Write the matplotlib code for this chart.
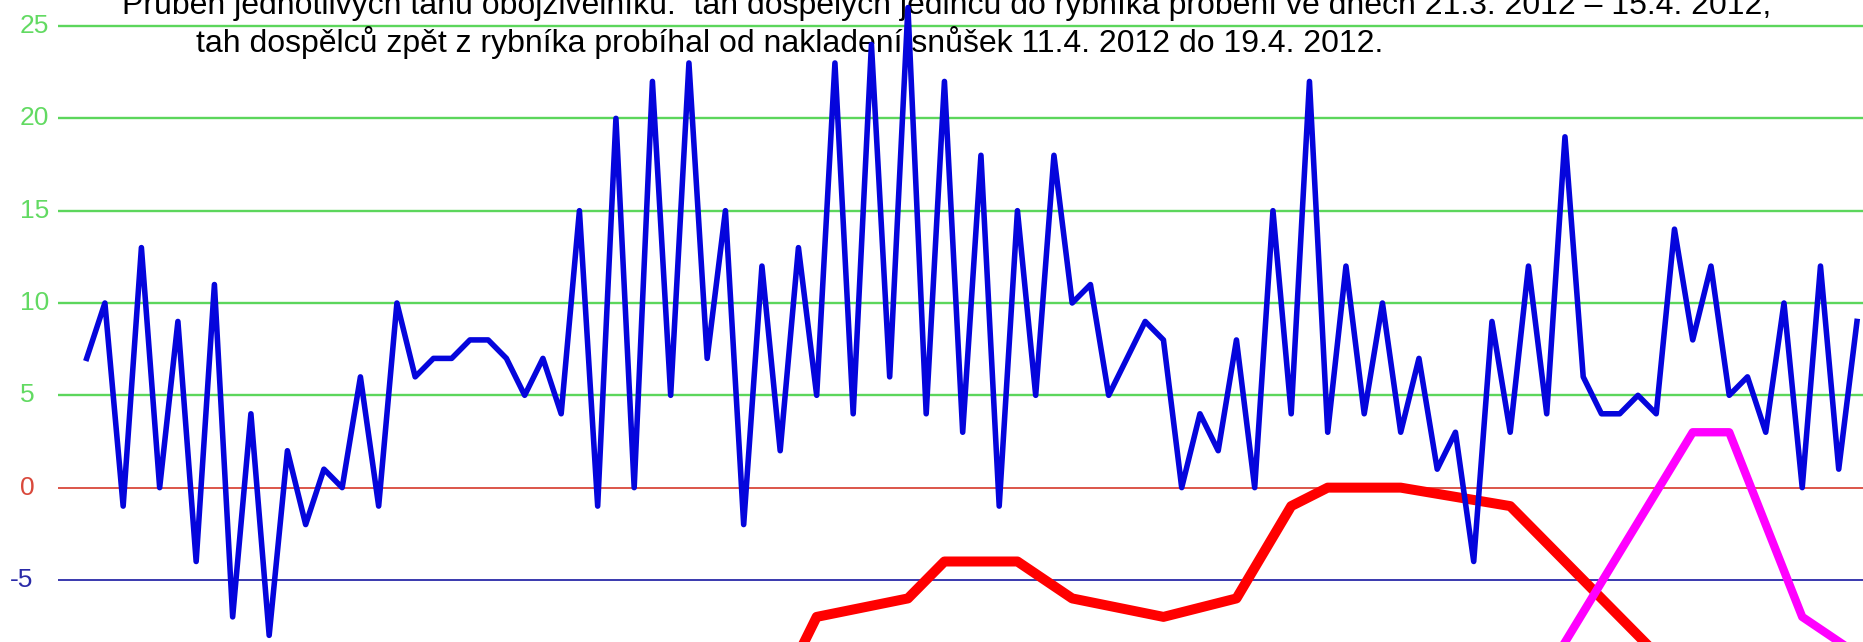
import numpy as np
import matplotlib
matplotlib.use('Agg')
import matplotlib.pyplot as plt
from matplotlib.transforms import blended_transform_factory

plt.rcParams['font.family'] = ['Liberation Sans', 'DejaVu Sans']

# ------ data ------

# blue series, one value per day
blue_vals = [7, 10, -1, 13, 0, 9, -4, 11, -7, 4,
             -8, 2, -2, 1, 0, 6, -1, 10, 6, 7,
             7, 8, 8, 7, 5, 7, 4, 15, -1, 20,
             0, 22, 5, 23, 7, 15, -2, 12, 2, 13,
             5, 23, 4, 24, 6, 26, 4, 22, 3, 18,
             -1, 15, 5, 18, 10, 11, 5, 7, 9, 8,
             0, 4, 2, 8, 0, 15, 4, 22, 3, 12,
             4, 10, 3, 7, 1, 3, -4, 9, 3, 12,
             4, 19, 6, 4, 4, 5, 4, 14, 8, 12,
             5, 6, 3, 10, 0, 12, 1, 9]
blue_days = np.arange(len(blue_vals))

# red series (adults back from the pond)
red_days = [38, 39, 40, 45, 47, 51, 54, 59, 63, 66, 68, 72, 78, 86]
red_vals = [-11, -9, -7, -6, -4, -4, -6, -7, -6, -1, 0, 0, -1, -9]

# magenta series
mag_days = [80, 88, 90, 94, 97]
mag_vals = [-10, 3, 3, -7, -9]

# horizontal reference lines / y labels
ytick_vals = [25, 20, 15, 10, 5, 0, -5]
ytick_labels = ['25', '20', '15', '10', '5', '0', '-5']
grid_colors = ['#5cd65c'] * 5 + ['#d9483b', '#2a2aa8']
label_colors = ['#62da62'] * 5 + ['#d9483b', '#2a2aa8']

title_1 = 'Průběh jednotlivých tahů obojživelníků:  tah dospělých jedinců do rybníka probění ve dnech 21.3. 2012 – 15.4. 2012,'
title_2 = 'tah dospělců zpět z rybníka probíhal od nakladení snůšek 11.4. 2012 do 19.4. 2012.'

# ------ plot ------

W, H = 1863, 642
fig = plt.figure(figsize=(W / 100, H / 100), dpi=100)
ax_left = 58
ax = fig.add_axes([ax_left / W, 0, (W - ax_left) / W, 1])

# reference lines
for v, c in zip(ytick_vals, grid_colors):
    lw = 1.7 if v > 0 else 1.3
    ax.axhline(v, color=c, linewidth=lw, zorder=1)

ax.plot(blue_days, blue_vals, color='#0505dc', linewidth=4.0, zorder=4)
ax.plot(red_days, red_vals, color='#ff0000', linewidth=7.2, zorder=3)
ax.plot(mag_days, mag_vals, color='#ff00ff', linewidth=6.0, zorder=3)

ax.set_xlim(-1.57, 97.33)
ax.set_ylim(-8.36, 26.41)
ax.set_xticks([])
ax.set_yticks([])
for s in ax.spines.values():
    s.set_visible(False)

# y labels, left aligned at the figure edge
trans = blended_transform_factory(fig.transFigure, ax.transData)
for v, lbl, c in zip(ytick_vals, ytick_labels, label_colors):
    x0 = 10 if lbl.startswith('-') else 20
    ax.text(x0 / W, v, lbl, transform=trans, color=c, fontsize=19,
            ha='left', va='center', clip_on=False)

# two-line heading
ax.text(122 / W, 1 - 14 / H, title_1, transform=fig.transFigure,
        fontsize=23, color='black', ha='left', va='baseline', zorder=2)
ax.text(196 / W, 1 - 52 / H, title_2, transform=fig.transFigure,
        fontsize=23, color='black', ha='left', va='baseline', zorder=2)

fig.savefig('out.png', dpi=100)
